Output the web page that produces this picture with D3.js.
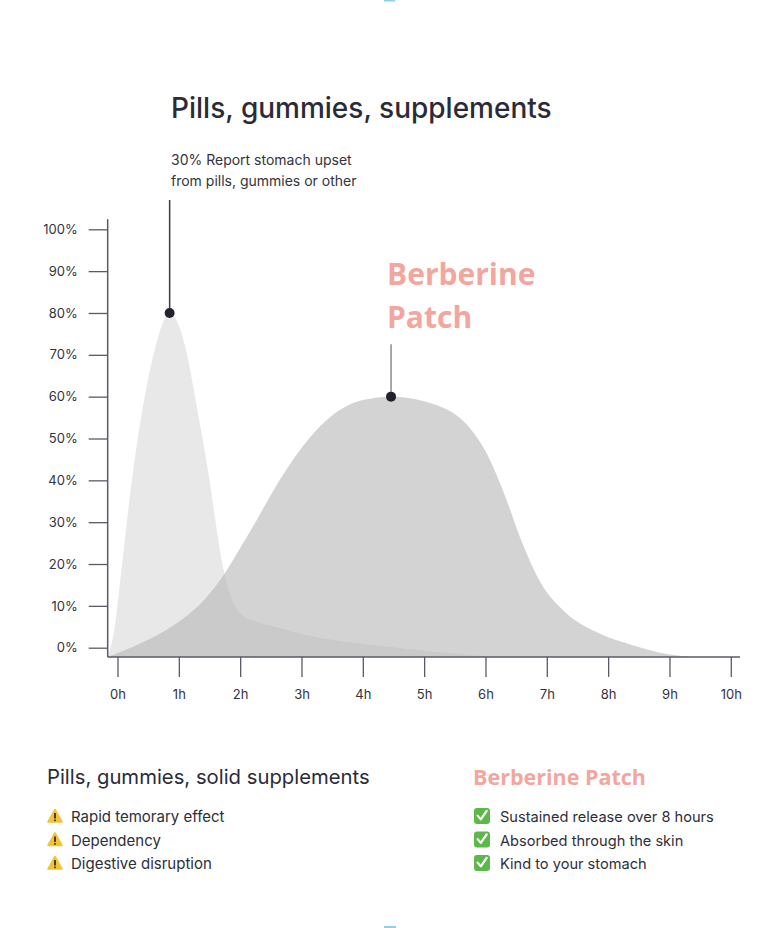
<!DOCTYPE html>
<html>
<head>
<meta charset="utf-8">
<script src="https://cdn.jsdelivr.net/npm/d3@7"></script>
<style>
  html, body { margin: 0; padding: 0; background: #fff; }
  svg { display: block; }
</style>
</head>
<body>
<svg id="chart" width="778" height="928"></svg>
<script>
// hours since intake, % effect
var pillsHours = [-0.16, -0.06, 0.07, 0.2, 0.33, 0.47, 0.65, 0.85, 1.0, 1.15, 1.3, 1.5, 1.6, 1.72, 1.87, 2.0, 2.3, 2.6, 3.09, 4.2, 5.2, 6.1];
var pillsValues = [-2.2, 3.5, 19.3, 36, 50, 62, 73.5, 80, 77, 69, 57, 40, 30, 19.3, 11.4, 8.2, 6.1, 4.9, 3, 0.6, -1, -2.2];
var patchHours = [-0.16, 0.37, 0.92, 1.46, 1.75, 2.0, 2.27, 2.5, 3.0, 3.5, 4.0, 4.46, 5.2, 5.75, 6.0, 6.3, 6.6, 6.9, 7.3, 7.8, 8.4, 9.0, 9.4];
var patchValues = [-2.2, 1, 5.4, 12.2, 17.8, 23.8, 30.5, 36.5, 47.7, 55.5, 59.2, 60, 58, 52.4, 47, 37, 25, 15.5, 8.5, 3.8, 0.6, -1.6, -2.2];
var peaks = [{ h: 0.85, v: 80 }, { h: 4.46, v: 60 }];
var yTicks = [0, 10, 20, 30, 40, 50, 60, 70, 80, 90, 100];
var xTicks = [0, 1, 2, 3, 4, 5, 6, 7, 8, 9, 10];
var pillsNotes = ['Rapid temorary effect', 'Dependency', 'Digestive disruption'];
var patchNotes = ['Sustained release over 8 hours', 'Absorbed through the skin', 'Kind to your stomach'];

var BASE = -2.2;       // value where the areas sit on the x axis
var X_MIN = -0.16, X_MAX = 10.15;

var svg = d3.select('#chart');
var font = 'Inter, "Noto Sans", sans-serif';
var ink = '#2b2b38';
var pink = '#f2a69e';

var x = d3.scaleLinear().domain([0, 10]).range([117.5, 730.8]);
var y = d3.scaleLinear().domain([0, 100]).range([647.7, 229.3]);

function zip(hs, vs) {
	return hs.map(function(h, i) { return { h: h, v: vs[i] }; });
}

var area = d3.area()
	.x(function(d) { return x(d.h); })
	.y0(y(BASE))
	.y1(function(d) { return y(d.v); })
	.curve(d3.curveMonotoneX);

svg.append('path')
	.datum(zip(pillsHours, pillsValues))
	.attr('d', area)
	.attr('fill', '#e8e8e8');

svg.append('path')
	.datum(zip(patchHours, patchValues))
	.attr('d', area)
	.attr('fill', '#b7b7b7')
	.attr('fill-opacity', 0.61);

// axes
var yAxis = svg.append('g')
	.attr('transform', 'translate(' + x(X_MIN) + ',0)')
	.call(d3.axisLeft(y).tickValues(yTicks).tickSize(19).tickPadding(11)
		.tickFormat(function(d) { return d + '%'; }));
yAxis.select('.domain').remove();

var xAxis = svg.append('g')
	.attr('transform', 'translate(0,' + y(BASE) + ')')
	.call(d3.axisBottom(x).tickValues(xTicks).tickSize(20).tickPadding(13)
		.tickFormat(function(d) { return d + 'h'; }));
xAxis.select('.domain').remove();

svg.selectAll('.tick line').attr('stroke', '#5a5a66').attr('stroke-width', 1.3);
svg.selectAll('.tick text').attr('font-family', font).attr('font-size', 13).attr('fill', '#333340');

svg.append('line')
	.attr('x1', x(X_MIN)).attr('x2', x(X_MIN))
	.attr('y1', y(102.4)).attr('y2', y(BASE))
	.attr('stroke', '#5a5a66').attr('stroke-width', 1.5);
svg.append('line')
	.attr('x1', x(X_MIN)).attr('x2', x(X_MAX))
	.attr('y1', y(BASE)).attr('y2', y(BASE))
	.attr('stroke', '#5a5a66').attr('stroke-width', 1.5);

// leader lines and peak dots
var leaderTop = [107, 72.5];
svg.selectAll('.leader')
	.data(peaks)
	.enter().append('line')
	.attr('x1', function(d) { return x(d.h); })
	.attr('x2', function(d) { return x(d.h); })
	.attr('y1', function(d, i) { return y(leaderTop[i]); })
	.attr('y2', function(d) { return y(d.v); })
	.attr('stroke', function(d, i) { return i ? '#8a8a96' : '#3a3a46'; })
	.attr('stroke-width', 1.5);

svg.selectAll('.peak')
	.data(peaks)
	.enter().append('circle')
	.attr('cx', function(d) { return x(d.h); })
	.attr('cy', function(d) { return y(d.v); })
	.attr('r', 5)
	.attr('fill', '#22222e');

// titles
svg.append('text')
	.attr('x', 171).attr('y', 118)
	.attr('font-family', font).attr('font-size', 28).attr('font-weight', 500)
	.attr('fill', ink)
	.text('Pills, gummies, supplements');

svg.append('text')
	.attr('font-family', font).attr('font-size', 14).attr('fill', '#333340')
	.selectAll('tspan')
	.data(['30% Report stomach upset', 'from pills, gummies or other'])
	.enter().append('tspan')
	.attr('x', 171)
	.attr('y', function(d, i) { return 165 + i * 21; })
	.text(function(d) { return d; });

svg.append('text')
	.attr('font-family', '"Open Sans", sans-serif').attr('font-size', 30).attr('font-weight', 700)
	.attr('fill', pink)
	.selectAll('tspan')
	.data(['Berberine', 'Patch'])
	.enter().append('tspan')
	.attr('x', 387)
	.attr('y', function(d, i) { return 285 + i * 43; })
	.text(function(d) { return d; });

// bottom comparison
svg.append('text')
	.attr('x', 47).attr('y', 784)
	.attr('font-family', font).attr('font-size', 20.3).attr('fill', ink)
	.text('Pills, gummies, solid supplements');

svg.append('text')
	.attr('x', 473).attr('y', 785)
	.attr('font-family', '"Open Sans", sans-serif').attr('font-size', 21.5).attr('font-weight', 700)
	.attr('fill', pink)
	.text('Berberine Patch');

var rowY = d3.scaleLinear().domain([0, 1]).range([822, 845.5]);

var warn = svg.selectAll('.warn')
	.data(pillsNotes)
	.enter().append('g')
	.attr('transform', function(d, i) { return 'translate(48,' + rowY(i) + ')'; });
warn.append('path')
	.attr('d', 'M7,-12.5 L14,0 L0,0 Z')
	.attr('fill', '#f4c236').attr('stroke', '#f4c236').attr('stroke-width', 1.6)
	.attr('stroke-linejoin', 'round');
warn.append('rect').attr('x', 6.1).attr('y', -9).attr('width', 1.8).attr('height', 5.5).attr('fill', '#3a3020');
warn.append('rect').attr('x', 6.1).attr('y', -2.4).attr('width', 1.8).attr('height', 1.6).attr('fill', '#3a3020');
warn.append('text')
	.attr('x', 23).attr('y', 0)
	.attr('font-family', font).attr('font-size', 15).attr('fill', '#2e2e3a')
	.text(function(d) { return d; });

var ok = svg.selectAll('.ok')
	.data(patchNotes)
	.enter().append('g')
	.attr('transform', function(d, i) { return 'translate(474,' + rowY(i) + ')'; });
ok.append('rect')
	.attr('x', 0).attr('y', -14).attr('width', 16).attr('height', 16).attr('rx', 3)
	.attr('fill', '#5db84a');
ok.append('path')
	.attr('d', 'M3.6,-6.4 L6.8,-2.6 L12.6,-11')
	.attr('fill', 'none').attr('stroke', '#fff').attr('stroke-width', 2.2)
	.attr('stroke-linecap', 'round').attr('stroke-linejoin', 'round');
ok.append('text')
	.attr('x', 26).attr('y', 0)
	.attr('font-family', font).attr('font-size', 14.6).attr('fill', '#2e2e3a')
	.text(function(d) { return d; });

// small blue marks at the page edges
svg.append('rect').attr('x', 384).attr('y', 0).attr('width', 11).attr('height', 1.5).attr('fill', '#8ecff0');
svg.append('rect').attr('x', 384).attr('y', 926).attr('width', 12).attr('height', 2).attr('fill', '#8ecff0');
</script>
</body>
</html>
